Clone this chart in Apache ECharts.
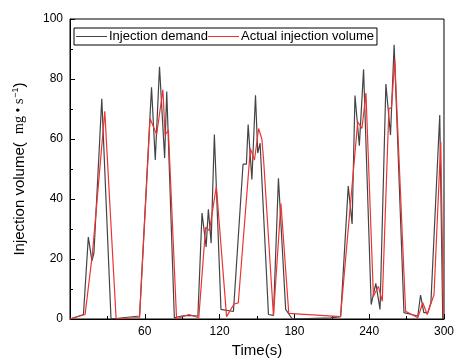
<!DOCTYPE html>
<html>
<head>
<meta charset="utf-8">
<script src="https://cdn.jsdelivr.net/npm/echarts@6/dist/echarts.min.js"></script>
<style>html,body{margin:0;padding:0;background:#fff}#c{width:457px;height:363px}</style>
</head>
<body>
<div id="c"></div>
<script>
// Injection demand: [time (s), value]
const demand = [
  [0,0],[10.8,1.5],[14.7,27.3],[17.6,19.4],[19.2,22],[25.5,73.4],[32.9,0],[55.8,1],
  [65.4,77.2],[68.4,53],[71.8,84.1],[75.9,53.7],[77.6,75.8],[83.7,0.4],[89.5,1],[94.7,1.2],
  [102.6,1],[105.9,35.3],[109.2,24],[111,36.6],[113.2,25.3],[115.8,61.5],[121.1,3.2],[131.1,2.5],
  [138.8,51.6],[141.5,51.6],[142.9,64.8],[145.9,46.5],[148.8,74.6],[150.6,55.3],[152.5,58.6],
  [159.2,1.5],[163.2,1.2],[167.2,46.9],[173,3.2],[178.3,0],[209,0.4],[217.1,0.8],[223.2,44.3],
  [226.3,31.7],[228.6,74.5],[232.1,57.8],[235.5,83.2],[241.6,4.8],[245.3,11.9],[248.7,3.2],
  [253.4,78.3],[257.1,61.3],[260,91.4],[267.9,2.1],[279,1],[281.2,8],[283.8,2.1],[287,2.1],
  [289.5,5.4],[296.6,68],[299,0]
];
// Actual injection volume: [time (s), value]
const actual = [
  [0,0],[12.1,1.5],[18,21.8],[19.5,21.8],[27.9,69.2],[37,0],[55.8,0.5],[64.2,66.8],
  [69.5,61.5],[74.5,76.4],[76.3,61.3],[78.9,63],[85.5,0],[95.4,1.5],[103.3,0.4],[108.8,30.6],
  [111.9,29.5],[117.4,44.2],[125.6,0.8],[131.6,5],[135,5.4],[144.7,56.8],[148,53],[151.3,63.5],
  [153.9,60],[155.3,53],[163.2,1],[169.2,38.5],[175.5,1.9],[217,0.8],[230.8,65.7],[234.2,63.5],
  [237.4,75.3],[243.4,7.6],[247.4,10.9],[250.5,5.9],[255.8,70],[257.9,70.6],[260.5,86.5],
  [269.2,2.6],[279,0.4],[283,5.4],[286.5,1.5],[288,2],[292,8.1],[297.4,59.1],[299.6,1]
];
const seriesNames = ['Injection demand', 'Actual injection volume'];
const xTicks = [0, 60, 120, 180, 240, 300];
const yTicks = [0, 20, 40, 60, 80, 100];

const FONT = 'Liberation Sans, Arial, sans-serif';
const chart = echarts.init(document.getElementById('c'));
chart.setOption({
  animation: false,
  backgroundColor: '#fff',
  grid: { left: 70, right: 9, top: 19, bottom: 40, show: true, borderColor: '#000', borderWidth: 1, backgroundColor: 'transparent' },
  legend: {
    left: 74, top: 28,
    data: seriesNames,
    icon: 'rect',
    borderColor: '#000', borderWidth: 1,
    padding: [2, 3, 2, 2],
    itemGap: 0, itemWidth: 31, itemHeight: 1,
    textStyle: { fontFamily: FONT, fontSize: 13, color: '#000', padding: [0, 0, 0, -3] }
  },
  xAxis: {
    type: 'value', min: xTicks[0], max: xTicks[xTicks.length - 1], interval: 60,
    name: 'Time(s)', nameLocation: 'middle', nameGap: 24,
    nameTextStyle: { fontFamily: FONT, fontSize: 15, color: '#000' },
    axisLine: { show: true, lineStyle: { color: '#000', width: 1 } },
    axisTick: { show: true, inside: true, length: 5, lineStyle: { color: '#000' } },
    minorTick: { show: true, splitNumber: 2, length: 3, lineStyle: { color: '#000' } },
    axisLabel: { fontFamily: FONT, fontSize: 12, color: '#000', margin: 7,
      formatter: v => (v === 0 ? '' : String(v)) },
    splitLine: { show: false }
  },
  yAxis: {
    type: 'value', min: yTicks[0], max: yTicks[yTicks.length - 1], interval: 20,
    name: 'Injection volume(  {u|mg • s}{s|−1}{p|)}', nameLocation: 'middle', nameGap: 42,
    nameTextStyle: { fontFamily: FONT, fontSize: 15, color: '#000',
      rich: {
        u: { fontFamily: 'Liberation Serif, serif', fontSize: 14, color: '#000' },
        s: { fontFamily: FONT, fontSize: 9, color: '#000', padding: [0, 0, 8, 1] },
        p: { fontFamily: FONT, fontSize: 15, color: '#000' }
      } },
    axisLine: { show: true, lineStyle: { color: '#000', width: 1 } },
    axisTick: { show: true, inside: true, length: 5, lineStyle: { color: '#000' } },
    minorTick: { show: true, splitNumber: 2, length: 3, lineStyle: { color: '#000' } },
    axisLabel: { fontFamily: FONT, fontSize: 12, color: '#000', margin: 7 },
    splitLine: { show: false }
  },
  series: [
    { name: seriesNames[0], type: 'line', data: demand, symbol: 'none',
      lineStyle: { color: '#444', width: 1.2 }, itemStyle: { color: '#444' } },
    { name: seriesNames[1], type: 'line', data: actual, symbol: 'none',
      lineStyle: { color: '#ee3333', width: 1.2 }, itemStyle: { color: '#ee3333' } }
  ]
});
</script>
</body>
</html>
